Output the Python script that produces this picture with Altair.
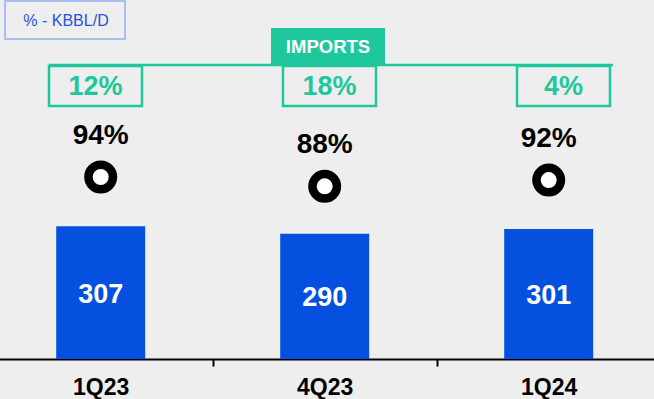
import altair as alt
import pandas as pd

quarters = ["1Q23", "4Q23", "1Q24"]
imports_kbbl = [307, 290, 301]
utilization_pct = [94, 88, 92]
import_share_pct = [12, 18, 4]
header_title = ["IMPORTS"]
unit_label = ["% - KBBL/D"]

BLUE = "#0650e0"
GREEN = "#1fc89c"
BG = "#eeeeee"
FONT = "Liberation Sans"

df = pd.DataFrame({
    "quarter": quarters,
    "imports": imports_kbbl,
    "util": utilization_pct,
    "share": import_share_pct,
})
df["util_label"] = df["util"].astype(str) + "%"
df["share_label"] = df["share"].astype(str) + "%"

x_main = alt.X(
    "quarter:N", sort=quarters, title=None,
    scale=alt.Scale(domain=quarters, range=[-11.3, 660.7], paddingInner=0, paddingOuter=0),
    axis=alt.Axis(labelAngle=0, labelFont=FONT, labelFontSize=23, labelFontWeight="bold",
                  labelColor="black", labelPadding=10, domainColor="black", domainWidth=2,
                  tickColor="black", tickWidth=2, tickSize=7, tickBand="extent", grid=False),
)
y_val = alt.Scale(domain=[0, 831], nice=False, zero=False)
y_pct = alt.Scale(domain=[-23.4, 208.2], nice=False, zero=False)

base = alt.Chart(df)

bars = base.mark_bar(color=BLUE, size=89).encode(
    x=x_main, y=alt.Y("imports:Q", scale=y_val, axis=None)
)
bar_text = base.transform_calculate(mid="datum.imports / 2").mark_text(
    color="white", font=FONT, fontSize=27, fontWeight="bold", baseline="middle", dy=2
).encode(x=x_main, y=alt.Y("mid:Q", scale=y_val, axis=None), text="imports:Q")
bars_layer = alt.layer(bars, bar_text)

circles = base.mark_point(
    shape="circle", filled=True, fill="white", stroke="black", strokeWidth=8.5, size=600, opacity=1
).encode(x=x_main, y=alt.Y("util:Q", scale=y_pct, axis=None))
util_text = base.mark_text(
    color="black", font=FONT, fontSize=28, fontWeight="bold", baseline="middle", dy=-41
).encode(x=x_main, y=alt.Y("util:Q", scale=y_pct, axis=None), text="util_label:N")
circ_layer = alt.layer(circles, util_text)

main = alt.layer(bars_layer, circ_layer).resolve_scale(y="independent")

x_box = alt.X(
    "quarter:N", sort=quarters, title=None,
    scale=alt.Scale(domain=quarters, range=[-21.5, 680.5], paddingInner=0, paddingOuter=0),
    axis=None,
)
boxes = base.mark_bar(size=93, fillOpacity=0, stroke=GREEN, strokeWidth=2.5).encode(
    x=x_box, y=alt.value(66), y2=alt.value(106)
)
box_text = base.mark_text(
    color=GREEN, font=FONT, fontSize=27, fontWeight="bold", baseline="middle"
).encode(x=x_box, y=alt.value(86.5), text="share_label:N")
box_layer = alt.layer(boxes, box_text)

hdf = pd.DataFrame({"label": header_title})
line = alt.Chart(hdf).mark_rule(color=GREEN, strokeWidth=2.5).encode(
    x=alt.value(49), x2=alt.value(613), y=alt.value(65)
)
imp_rect = alt.Chart(hdf).mark_rect(color=GREEN).encode(
    x=alt.value(271), x2=alt.value(385), y=alt.value(28), y2=alt.value(64)
)
imp_text = alt.Chart(hdf).mark_text(
    color="white", font=FONT, fontSize=18.5, fontWeight="bold", baseline="middle"
).encode(x=alt.value(328), y=alt.value(47), text="label:N")

udf = pd.DataFrame({"label": unit_label})
unit_rect = alt.Chart(udf).mark_rect(fill=BG, stroke="#a9bff0", strokeWidth=2).encode(
    x=alt.value(5), x2=alt.value(125), y=alt.value(1), y2=alt.value(39)
)
unit_text = alt.Chart(udf).mark_text(
    color="#1f55dd", font=FONT, fontSize=16, baseline="middle"
).encode(x=alt.value(66), y=alt.value(21), text="label:N")

header = alt.layer(line, imp_rect, imp_text, unit_rect, unit_text)

chart = alt.layer(main, box_layer, header).resolve_scale(
    x="independent", y="independent"
).properties(
    width=654, height=359, background=BG,
    padding={"left": 0, "top": 0, "right": 0, "bottom": 40},
    autosize=alt.AutoSizeParams(type="none"),
).configure_view(stroke=None)

chart.save("out.html", embed_options={"renderer": "svg", "actions": False})
